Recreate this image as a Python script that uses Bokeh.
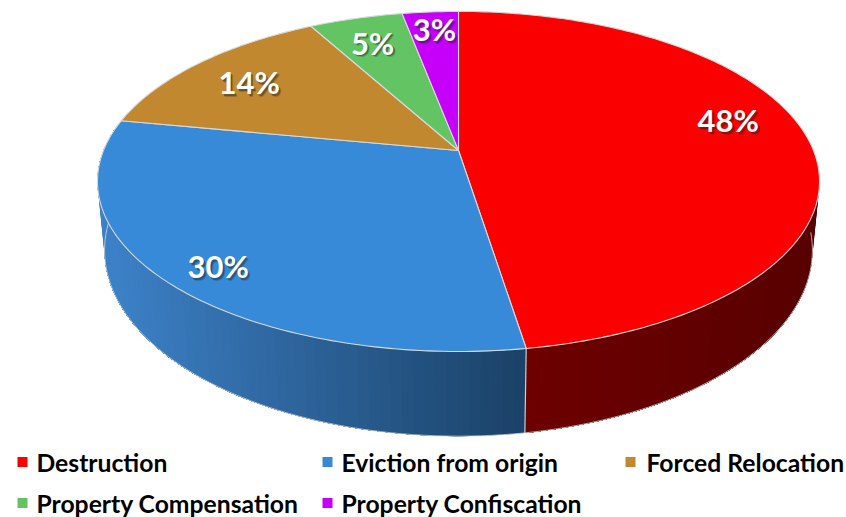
import math
from bokeh.plotting import figure
from bokeh.models import Range1d
from bokeh.core.properties import value
from bokeh.embed import file_html
from bokeh.resources import INLINE

categories = ["Destruction", "Eviction from origin", "Forced Relocation", "Property Compensation", "Property Confiscation"]
values = [47.5, 30.5, 14, 5, 3]
labels = ["48%", "30%", "14%", "5%", "3%"]

colors = ["#fb0000", "#368ad8", "#c1882f", "#62c462", "#c600f8"]
side_left = [(110, 0, 0), (60, 128, 198), (120, 85, 30), (60, 120, 60), (120, 0, 150)]
side_right = [(88, 0, 0), (27, 66, 104), (120, 85, 30), (60, 120, 60), (120, 0, 150)]

CX = 458
K = 0.182
TOP = dict(R=355.0, S=164.4, V=150.0)
BOT = dict(R=348.0, S=179.7, V=216.0)
label_off = [(7, -21), (-29, 21), (-10, -1), (-6, -5), (-2, -13)]
legend_x = [22, 327, 630, 22, 327]
legend_y = [461.5, 461.5, 461.5, 502.5, 502.5]
legend_tx = [36, 341, 646, 36, 341]
LEG_FONT = "24.7px"
VIS = (95.0, 278.0)


def proj(deg, r, m):
    t = math.radians(deg)
    X, Y = r * math.sin(t), r * math.cos(t)
    d = 1 + K * Y
    return CX + m["R"] * X / d, m["V"] - m["S"] * Y / d


p = figure(width=846, height=517, x_range=Range1d(0, 846), y_range=Range1d(517, 0),
           output_backend="svg", toolbar_location=None, min_border=0)
p.axis.visible = False
p.grid.visible = False
p.outline_line_color = None
p.background_fill_color = "white"
p.border_fill_color = "white"

total = sum(values)
edges = [0.0]
for v in values:
    edges.append(edges[-1] + v / total * 360.0)

# side wall: overlapping strips painted in order, so the shade changes smoothly
for i in range(len(values)):
    a0, a1 = max(edges[i], VIS[0]), min(edges[i + 1], VIS[1])
    if a1 <= a0:
        continue
    n = max(2, int((a1 - a0) / 1.5))
    xs, ys, cols = [], [], []
    x_lo = proj(a1, 1, TOP)[0]
    x_hi = proj(a0, 1, TOP)[0]
    if x_hi < x_lo:
        x_lo, x_hi = x_hi, x_lo
    for j in range(n):
        b0 = a0 + (a1 - a0) * j / n
        u0 = proj(b0, 1, TOP)
        arc = [a0 + (a1 - a0) * q / n for q in range(j, n + 1)]
        xs.append([proj(t, 1, TOP)[0] for t in arc] + [proj(t, 1, BOT)[0] for t in reversed(arc)])
        ys.append([proj(t, 1, TOP)[1] for t in arc] + [proj(t, 1, BOT)[1] for t in reversed(arc)])
        f = (u0[0] - x_lo) / max(1.0, x_hi - x_lo)
        f = min(1.0, max(0.0, f))
        c = [round(side_left[i][q] + (side_right[i][q] - side_left[i][q]) * f) for q in range(3)]
        cols.append("#%02x%02x%02x" % tuple(c))
    p.patches(xs, ys, fill_color=cols, line_color=None)
    # bottom rim highlight
    lx = [proj(a0 + (a1 - a0) * j / n, 1, BOT)[0] for j in range(n + 1)]
    ly = [proj(a0 + (a1 - a0) * j / n, 1, BOT)[1] for j in range(n + 1)]
    p.line(lx, ly, line_color="#d8d8d8", line_width=1, line_alpha=0.8)

# vertical seam between the two visible walls
for e in edges[1:-1]:
    if VIS[0] < e < VIS[1]:
        a, b = proj(e, 1, TOP), proj(e, 1, BOT)
        p.line([a[0], b[0]], [a[1], b[1]], line_color="#c8d0d8", line_width=1.2)

# top surface
for i in range(len(values)):
    a0, a1 = edges[i], edges[i + 1]
    n = max(4, int(a1 - a0))
    xs, ys = [proj(0, 0, TOP)[0]], [proj(0, 0, TOP)[1]]
    for j in range(n + 1):
        q = proj(a0 + (a1 - a0) * j / n, 1, TOP)
        xs.append(q[0])
        ys.append(q[1])
    p.patch(xs, ys, fill_color=colors[i], line_color="#d9d9d9", line_width=1.1, line_join="round")

# percentage labels with soft shadow
for i, lab in enumerate(labels):
    mid = (edges[i] + edges[i + 1]) / 2
    q = proj(mid, 0.75, TOP)
    x, y = q[0] + label_off[i][0], q[1] + label_off[i][1]
    for dx, dy, al in [(2.4, 2.6, 0.22), (1.6, 1.8, 0.4)]:
        p.text([x + dx], [y + dy], text=[lab], text_color="#202020", text_alpha=al,
               text_font=value("Lato"), text_font_style="bold", text_font_size="31px",
               text_align="center", text_baseline="middle")
    p.text([x], [y], text=[lab], text_color="white",
           text_font=value("Lato"), text_font_style="bold", text_font_size="31px",
           text_align="center", text_baseline="middle")

# legend
p.scatter(legend_x, legend_y, marker="square", size=10, fill_color=colors, line_color=None)
p.text(legend_tx, legend_y, text=categories, text_color="black",
       text_font=value("Lato"), text_font_style="bold", text_font_size=LEG_FONT,
       text_align="left", text_baseline="middle")

open("out.html", "w").write(file_html(p, INLINE))
